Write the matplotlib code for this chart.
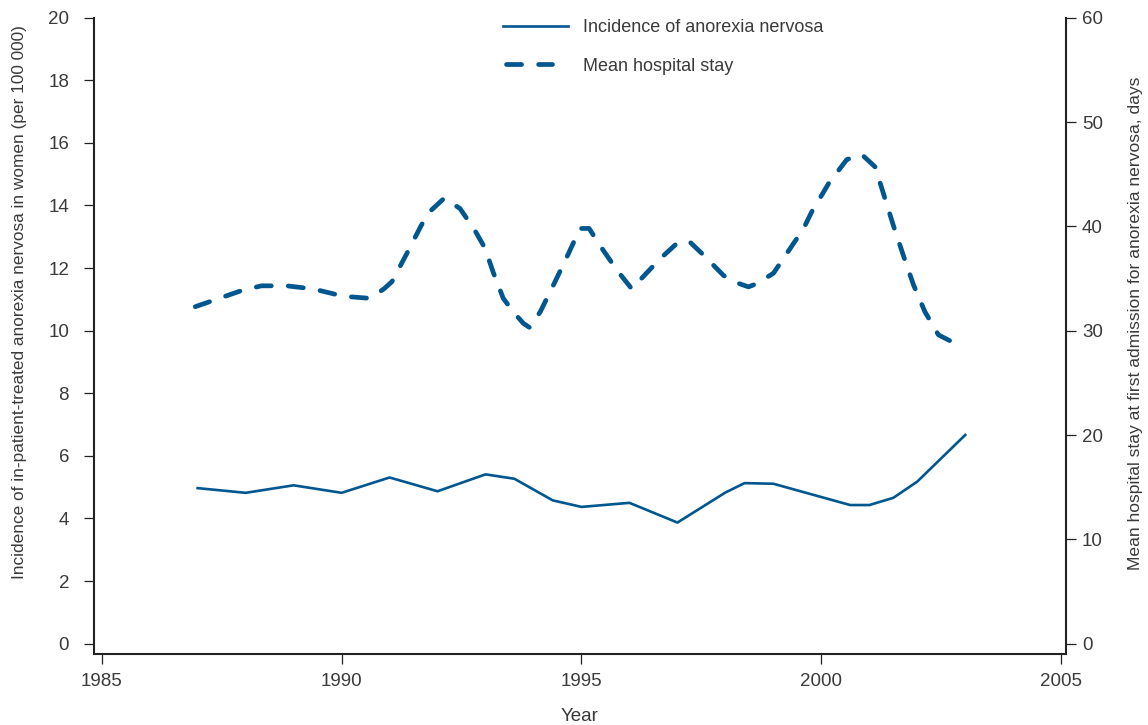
import matplotlib
matplotlib.use("Agg")
import matplotlib.pyplot as plt

# incidence of in-patient-treated anorexia nervosa (per 100 000 women)
inc_years = [1987, 1988, 1989, 1990, 1991, 1992, 1993, 1993.6, 1994.4, 1995,
             1996, 1997, 1998, 1998.4, 1999, 2000.6, 2001, 2001.5, 2002, 2003]
inc_vals = [4.97, 4.82, 5.06, 4.82, 5.31, 4.87, 5.41, 5.27, 4.58, 4.37,
            4.50, 3.87, 4.83, 5.13, 5.11, 4.43, 4.43, 4.66, 5.18, 6.67]

# mean hospital stay at first admission, days
stay_years = [1986.95, 1987.95, 1988.33, 1988.86, 1989.41, 1990.04, 1990.59, 1990.88,
              1991.05, 1991.36, 1991.65, 1991.81, 1992.14, 1992.47, 1992.78, 1992.99,
              1993.16, 1993.37, 1993.58, 1993.79, 1993.92, 1994.14, 1994.45, 1994.73,
              1994.97, 1995.16, 1995.35, 1995.74, 1996.05, 1996.29, 1996.64, 1997.02,
              1997.26, 1997.51, 1997.96, 1998.17, 1998.48, 1998.65, 1999.0, 1999.28,
              1999.63, 1999.8, 1999.97, 2000.15, 2000.53, 2000.84, 2001.12, 2001.29,
              2001.5, 2001.71, 2001.92, 2002.16, 2002.34, 2002.44, 2002.78]
stay_vals = [32.3, 33.9, 34.3, 34.3, 34.0, 33.3, 33.1, 34.0,
             34.7, 37.4, 40.0, 41.3, 42.7, 41.7, 39.6, 37.9,
             35.6, 33.1, 31.8, 30.7, 30.3, 31.8, 34.7, 37.4,
             39.8, 39.8, 38.4, 35.8, 34.0, 35.2, 36.9, 38.5,
             38.5, 37.4, 35.3, 34.7, 34.2, 34.5, 35.5, 37.4,
             39.8, 41.4, 42.7, 44.1, 46.4, 46.9, 45.7, 43.2,
             40.1, 37.2, 34.4, 31.8, 30.4, 29.6, 28.8]

left_ticks = [0, 2, 4, 6, 8, 10, 12, 14, 16, 18, 20]
right_ticks = [0, 10, 20, 30, 40, 50, 60]
x_ticks = [1985, 1990, 1995, 2000, 2005]

blue = '#00568e'
txt = '#3a3a3a'
plt.rcParams['font.family'] = ['Liberation Sans', 'DejaVu Sans']

fig = plt.figure(figsize=(11.48, 7.25), dpi=100)
ax = fig.add_axes([0.0819, 0.0979, 0.8467, 0.8777])
ax2 = ax.twinx()

l1, = ax.plot(inc_years, inc_vals, color=blue, lw=1.9, solid_joinstyle='round',
              label='Incidence of anorexia nervosa')
l2, = ax2.plot(stay_years, stay_vals, color=blue, lw=3.4, dashes=(3.2, 3.6),
               dash_capstyle='round', dash_joinstyle='round', label='Mean hospital stay')

ax.set_xlim(1984.84, 2005.10)
ax.set_ylim(-0.33, 20)
ax2.set_ylim(-0.99, 60)
ax.set_xticks(x_ticks)
ax.set_yticks(left_ticks)
ax2.set_yticks(right_ticks)

for a in (ax, ax2):
    a.spines['top'].set_visible(False)
    for s in a.spines.values():
        s.set_linewidth(1.5)
        s.set_color('#222222')
ax.spines['right'].set_visible(False)
ax2.spines['left'].set_visible(False)
ax2.spines['bottom'].set_visible(False)

ax.tick_params(axis='y', length=7, width=0.9, pad=11, labelsize=13.5, colors=txt)
ax.tick_params(axis='x', length=7, width=0.9, pad=7, labelsize=13.5, colors=txt)
ax2.tick_params(axis='y', length=7, width=0.9, pad=4.5, labelsize=13.5, colors=txt)
for a in (ax, ax2):
    a.tick_params(color='#222222')

ax.set_ylabel('Incidence of in-patient-treated anorexia nervosa in women (per 100 000)',
              fontsize=12.4, color=txt, va='center', ha='center')
ax.yaxis.set_label_coords(-0.077, 0.553)
ax2.set_ylabel('Mean hospital stay at first admission for anorexia nervosa, days',
               fontsize=12.6, color=txt, va='center', ha='center')
ax2.yaxis.set_label_coords(1.071, 0.52)
ax.set_xlabel('Year', fontsize=13.5, color=txt, va='center', ha='center')
ax.xaxis.set_label_coords(0.5, -0.0974)

leg = ax.legend([l1, l2], [l1.get_label(), l2.get_label()], loc='upper left',
                bbox_to_anchor=(0.438, 0.974), bbox_transform=fig.transFigure,
                frameon=False, borderpad=0, borderaxespad=0, fontsize=13,
                handlelength=3.6, handletextpad=0.85, labelspacing=1.2)
for t in leg.get_texts():
    t.set_color(txt)
# only two dashes in the legend sample, like the original
hd = leg.legend_handles[1]
xd = list(hd.get_xdata())
hd.set_xdata([xd[0] + 2 + (v - xd[0]) * 0.72 for v in xd])

fig.savefig('out.png', dpi=100)
